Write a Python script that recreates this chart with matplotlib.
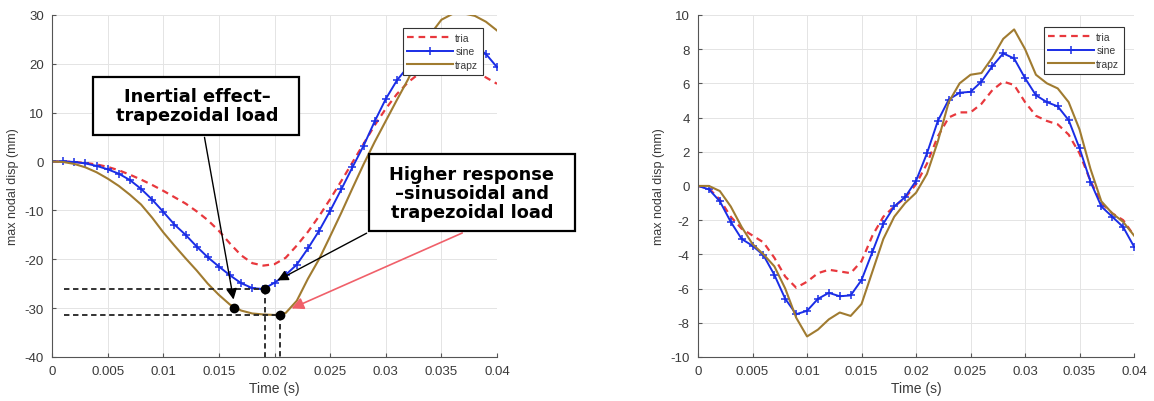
import numpy as np
import matplotlib
matplotlib.use("Agg")
from matplotlib import pyplot as plt
from matplotlib.patches import Rectangle

## data #######################################################################

t = np.arange(41) * 0.001

# left panel
tria_l = [0, 0, -0.1, -0.3, -0.6, -1.1, -1.8, -2.7, -3.7, -4.8,
          -6.0, -7.3, -8.6, -10.2, -12.0, -14.2, -16.8, -19.2, -20.8, -21.3,
          -21.0, -19.7, -17.2, -14.4, -11.2, -7.7, -4.0, -0.2, 3.6, 7.4,
          10.8, 13.8, 16.2, 18.0, 19.2, 19.8, 19.9, 19.4, 18.4, 17.2, 15.9]
sine_l = [0, 0, -0.1, -0.4, -0.9, -1.6, -2.5, -3.8, -5.6, -7.8,
          -10.3, -12.9, -15.0, -17.4, -19.6, -21.5, -23.3, -24.9, -25.9, -26.1,
          -24.8, -23.2, -21.1, -17.8, -14.2, -10.1, -5.7, -1.2, 3.2, 8.2,
          12.8, 16.6, 19.4, 21.6, 23.2, 24.2, 24.6, 24.4, 23.6, 22.0, 19.3]
trapz_l = [0, -0.1, -0.5, -1.2, -2.2, -3.5, -5.0, -6.8, -8.8, -11.5,
           -14.5, -17.2, -19.8, -22.3, -25.0, -27.3, -29.3, -30.5, -31.1, -31.3,
           -31.4, -31.0, -28.5, -24.0, -20.0, -15.3, -10.5, -5.5, -0.6, 4.0,
           8.3, 12.6, 16.8, 21.5, 26.0, 29.0, 30.2, 30.3, 29.8, 28.6, 26.8]

# right panel
tria_r = [0, -0.15, -0.8, -1.8, -2.5, -2.9, -3.3, -4.2, -5.3, -5.95,
          -5.6, -5.1, -4.9, -5.0, -5.1, -4.4, -2.9, -1.8, -1.2, -0.7,
          0.1, 1.3, 2.9, 4.0, 4.3, 4.3, 4.8, 5.6, 6.1, 5.9,
          4.9, 4.1, 3.8, 3.6, 3.0, 1.9, 0.3, -1.0, -1.6, -2.0, -2.9]
sine_r = [0, -0.2, -0.9, -2.1, -3.1, -3.5, -4.05, -5.2, -6.6, -7.5,
          -7.3, -6.6, -6.25, -6.45, -6.4, -5.5, -3.85, -2.2, -1.2, -0.65,
          0.3, 1.9, 3.8, 5.05, 5.45, 5.5, 6.1, 7.0, 7.75, 7.45,
          6.3, 5.3, 4.9, 4.65, 3.85, 2.2, 0.25, -1.2, -1.8, -2.4, -3.55]
trapz_r = [0, 0, -0.3, -1.2, -2.4, -3.4, -4.0, -4.7, -6.0, -7.7,
           -8.8, -8.4, -7.8, -7.4, -7.6, -6.9, -5.0, -3.1, -1.8, -1.0,
           -0.4, 0.7, 2.6, 4.9, 6.0, 6.5, 6.6, 7.5, 8.6, 9.15,
           8.0, 6.5, 6.0, 5.7, 4.9, 3.3, 1.0, -0.9, -1.6, -2.1, -2.9]

labels = ["tria", "sine", "trapz"]
xticks = [0, 0.005, 0.01, 0.015, 0.02, 0.025, 0.03, 0.035, 0.04]
xticklabels = ["0", "0.005", "0.01", "0.015", "0.02", "0.025", "0.03", "0.035", "0.04"]

# markers / guides on the left panel
t_sine_min, v_sine_min = 0.0191, -26.0
t_trapz_min, v_trapz_min = 0.0205, -31.4
t_inertia, v_inertia = 0.0164, -30.0

## style ######################################################################

RED = "#e8383d"
BLUE = "#1a2de6"
BROWN = "#a07b30"
TICK = "#3a3a3a"

plt.rcParams["font.family"] = ["Liberation Sans", "DejaVu Sans"]
plt.rcParams["axes.unicode_minus"] = False


def style_axes(axe, ylim, yticks):
    axe.set_xlim(0, 0.04)
    axe.set_ylim(*ylim)
    axe.set_xticks(xticks)
    axe.set_xticklabels(xticklabels)
    axe.set_yticks(yticks)
    axe.grid(True, color="#e4e4e4", lw=0.7)
    axe.set_axisbelow(True)
    for s in ["top", "right"]:
        axe.spines[s].set_visible(False)
    for s in ["left", "bottom"]:
        axe.spines[s].set_color("#555555")
        axe.spines[s].set_linewidth(0.8)
    axe.tick_params(direction="in", length=3, colors="#555555",
                    labelcolor=TICK, labelsize=9.5, pad=6)
    axe.set_xlabel("Time (s)", fontsize=10, color=TICK, labelpad=3)
    axe.set_ylabel("max nodal disp (mm)", fontsize=9, color=TICK, labelpad=4)


def draw_series(axe, tria, sine, trapz):
    axe.plot(t, tria, "--", color=RED, lw=1.6, dashes=(3, 2.2), label=labels[0])
    axe.plot(t, sine, "-", color=BLUE, lw=1.4, marker="+", ms=6, mew=1.1,
             label=labels[1])
    axe.plot(t, trapz, "-", color=BROWN, lw=1.5, label=labels[2])


def draw_legend(axe, anchor):
    leg = axe.legend(loc="upper right", bbox_to_anchor=anchor, borderaxespad=0,
                     fontsize=7.5, handlelength=4.4, handletextpad=0.2,
                     labelspacing=0.35, fancybox=False, framealpha=1,
                     borderpad=0.45)
    leg.get_frame().set_edgecolor("#333333")
    leg.get_frame().set_linewidth(0.8)
    for txt in leg.get_texts():
        txt.set_color(TICK)


fig = plt.figure(figsize=(11.54, 4.02), dpi=100)
ax1 = fig.add_axes([0.0451, 0.1095, 0.3856, 0.851])
ax2 = fig.add_axes([0.6049, 0.1095, 0.3778, 0.851])

## left panel ##################################################################

style_axes(ax1, (-40, 30), range(-40, 31, 10))
draw_series(ax1, tria_l, sine_l, trapz_l)
draw_legend(ax1, (0.9685, 0.962))

# dashed guides to the minima
dash = dict(color="#222222", lw=1.3, ls=(0, (3, 2)), zorder=4)
ax1.plot([0.00107, t_sine_min], [v_sine_min, v_sine_min], **dash)
ax1.plot([0.00107, t_trapz_min], [v_trapz_min, v_trapz_min], **dash)
ax1.plot([t_sine_min, t_sine_min], [v_sine_min, -40], **dash)
ax1.plot([t_trapz_min, t_trapz_min], [v_trapz_min, -40], **dash)
ax1.plot([t_sine_min, t_trapz_min, t_inertia], [v_sine_min, v_trapz_min, v_inertia],
         "o", color="black", ms=6, zorder=6)

arrow_k = dict(arrowstyle="-|>", color="black", lw=1.0, mutation_scale=16)
ax1.annotate("", xy=(0.01636, -28.8), xytext=(0.01366, 5.5),
             arrowprops=arrow_k, annotation_clip=False, zorder=7)
ax1.annotate("", xy=(0.02004, -24.6), xytext=(0.0285, -14.4),
             arrowprops=arrow_k, annotation_clip=False, zorder=7)
ax1.annotate("", xy=(0.0213, -30.3), xytext=(0.0371, -14.4),
             arrowprops=dict(arrowstyle="-|>", color="#f0606a", lw=1.2,
                             mutation_scale=18),
             annotation_clip=False, zorder=7)

box_kw = dict(facecolor="white", edgecolor="black", lw=1.6, clip_on=False, zorder=8)
ax1.add_patch(Rectangle((0.00369, 5.5), 0.0222 - 0.00369, 17.2 - 5.5, **box_kw))
ax1.add_patch(Rectangle((0.0285, -14.3), 0.0470 - 0.0285, 1.6 + 14.3, **box_kw))

txt_kw = dict(ha="center", va="center", fontsize=12.8, fontweight="bold",
              family="DejaVu Sans", linespacing=1.08, zorder=9, clip_on=False)
ax1.text(0.01303, 11.4, "Inertial effect\u2013\ntrapezoidal load", **txt_kw)
ax1.text(0.03775, -6.4, "Higher response\n\u2013sinusoidal and\ntrapezoidal load",
         **txt_kw)

## right panel ################################################################

style_axes(ax2, (-10, 10), range(-10, 11, 2))
draw_series(ax2, tria_r, sine_r, trapz_r)
draw_legend(ax2, (0.977, 0.965))

fig.savefig("out.png", dpi=100)
